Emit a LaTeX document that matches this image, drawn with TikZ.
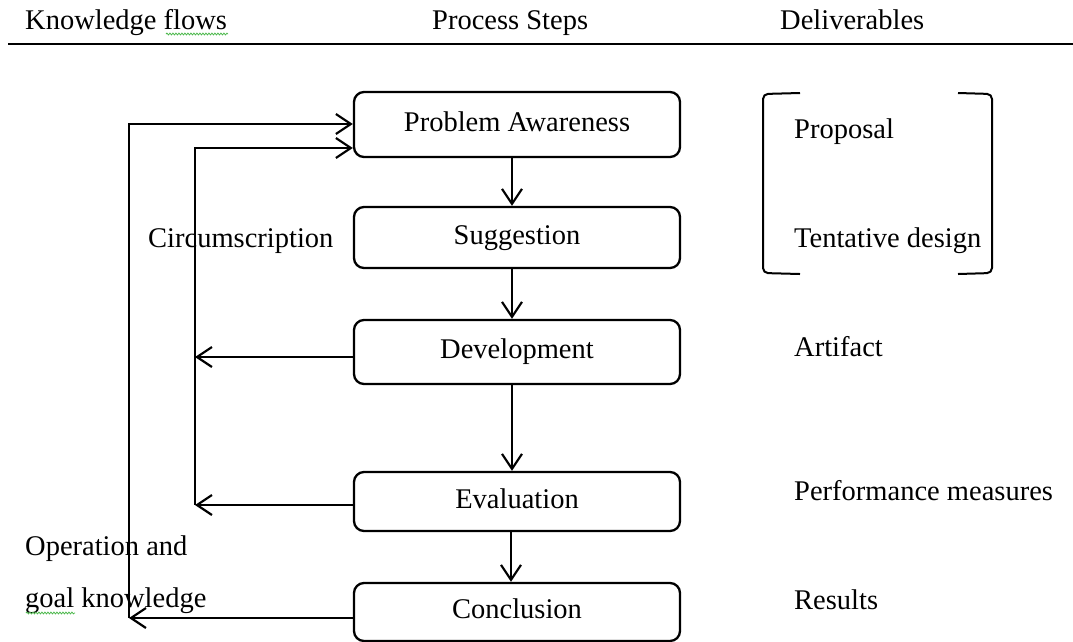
\documentclass[tikz,border=0pt]{standalone}
\usepackage{fontspec}
\setmainfont{Liberation Serif}
\usetikzlibrary{arrows.meta,decorations.pathmorphing}
\begin{document}
\begin{tikzpicture}[x=1pt,y=-1pt,
  lbl/.style={inner sep=0pt, font=\fontsize{28.5}{34}\selectfont},
  stepbox/.style={draw, line width=2.3pt, rounded corners=10pt, minimum width=326pt, inner sep=0pt, font=\fontsize{28.5}{34}\selectfont, text height=19pt, text depth=6pt},
  flow/.style={line width=2.2pt},
  arr/.style={flow, -{Straight Barb[length=15pt,width=20pt,line width=2.2pt]}},
  squig/.style={draw=green!60!black!70, line width=0.8pt, decorate, decoration={snake, segment length=3pt, amplitude=0.9pt}}
]
\useasboundingbox (0,0) rectangle (1073,641);
% header
\node[lbl, anchor=base west] (h1) at (25,29) {Knowledge flows};
\node[lbl, anchor=base west] (h2) at (432,29) {Process Steps};
\node[lbl, anchor=base west] (h3) at (780,29) {Deliverables};
\draw[line width=2.2pt] (8,44) -- (1073,44);
\draw[squig] (166,34) -- (228,34);
% boxes
\node[stepbox, minimum height=65pt] (pa) at (517,124.5) {Problem Awareness};
\node[stepbox, minimum height=61pt] (sug) at (517,237.5) {Suggestion};
\node[stepbox, minimum height=64pt] (dev) at (517,352) {Development};
\node[stepbox, minimum height=59pt] (eval) at (517,501.5) {Evaluation};
\node[stepbox, minimum height=58pt] (concl) at (517,612) {Conclusion};
% vertical arrows
\draw[arr] ([xshift=-5pt]pa.south) -- ([xshift=-5pt]sug.north);
\draw[arr] ([xshift=-5pt]sug.south) -- ([xshift=-5pt]dev.north);
\draw[arr] ([xshift=-5pt]dev.south) -- ([xshift=-5pt]eval.north);
\draw[arr] ([xshift=-6pt]eval.south) -- ([xshift=-6pt]concl.north);
% feedback loops
\coordinate (o1) at (129,124);
\coordinate (o2) at (129,618);
\coordinate (i1) at (195,148);
\coordinate (i2) at (195,505);
\coordinate (i3) at (195,357);
\draw[arr] (o2) -- (o1) -- (o1 -| pa.west);
\draw[arr] (concl.west |- o2) -- (o2);
\draw[arr] (i2) -- (i1) -- (i1 -| pa.west);
\draw[arr] (dev.west |- i3) -- (i3);
\draw[arr] (eval.west |- i2) -- (i2);
% left labels
\node[lbl, anchor=base west] (circ) at (148,247) {Circumscription};
\node[lbl, anchor=base west] (op1) at (25,555) {Operation and};
\node[lbl, anchor=base west] (op2) at (25,607) {goal knowledge};
\draw[squig] (26,613) -- (75,613);
% deliverables
\node[lbl, anchor=base west] (d1) at (794,138) {Proposal};
\node[lbl, anchor=base west] (d2) at (794,247) {Tentative design};
\node[lbl, anchor=base west] (d3) at (794,356) {Artifact};
\node[lbl, anchor=base west] (d4) at (794,500) {Performance measures};
\node[lbl, anchor=base west] (d5) at (794,609) {Results};
% bracket
\draw[line width=2pt, rounded corners=5pt] (800,93) -- (763,94) -- (763,273) -- (800,274);
\draw[line width=2pt, rounded corners=5pt] (958,93) -- (992,94) -- (992,273) -- (958,274);
\end{tikzpicture}
\end{document}
